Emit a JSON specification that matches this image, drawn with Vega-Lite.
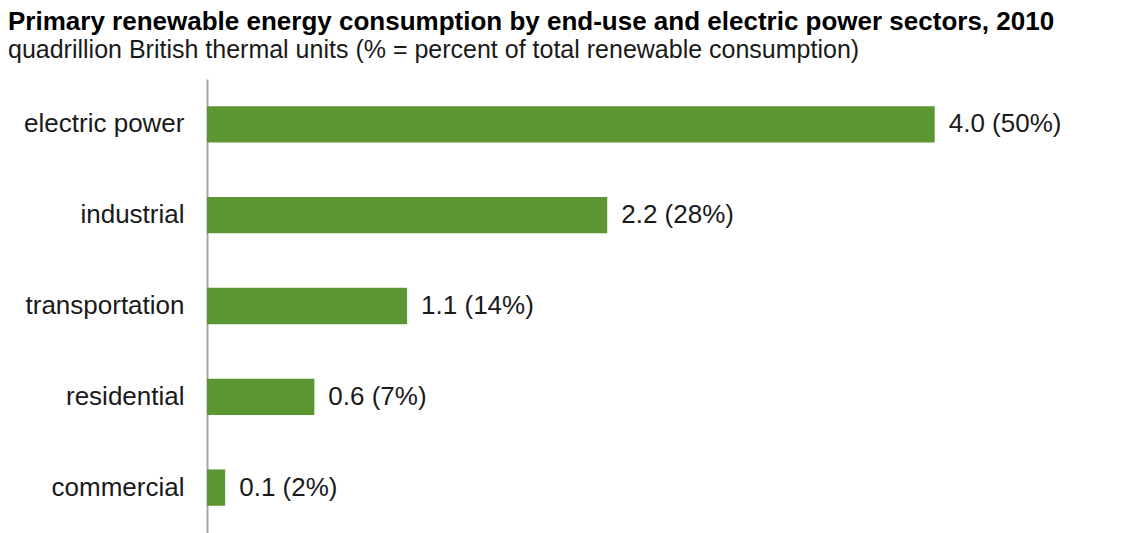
{
  "$schema": "https://vega.github.io/schema/vega-lite/v6.json",
  "autosize": "none",
  "width": 926,
  "height": 454,
  "padding": {"left": 207, "top": 79, "right": 0, "bottom": 0},
  "background": "white",
  "view": {"stroke": null},
  "title": {
    "text": "Primary renewable energy consumption by end-use and electric power sectors, 2010",
    "subtitle": "quadrillion British thermal units (% = percent of total renewable consumption)",
    "anchor": "start",
    "frame": "group",
    "dx": -199,
    "offset": 16,
    "font": "Liberation Sans",
    "fontSize": 26,
    "fontWeight": "bold",
    "color": "#000000",
    "subtitleFont": "Liberation Sans",
    "subtitleFontSize": 25,
    "subtitleColor": "#1a1a1a",
    "subtitlePadding": 3
  },
  "data": {
    "values": [
      {"sector": "electric power", "value": 4.0, "label": "4.0 (50%)"},
      {"sector": "industrial", "value": 2.2, "label": "2.2 (28%)"},
      {"sector": "transportation", "value": 1.1, "label": "1.1 (14%)"},
      {"sector": "residential", "value": 0.59, "label": "0.6 (7%)"},
      {"sector": "commercial", "value": 0.1, "label": "0.1 (2%)"}
    ]
  },
  "encoding": {
    "y": {
      "field": "sector",
      "type": "nominal",
      "sort": null,
      "scale": {"paddingInner": 0.6, "paddingOuter": 0.3},
      "axis": {
        "title": null,
        "ticks": false,
        "labelPadding": 23,
        "labelFont": "Liberation Sans",
        "labelFontSize": 26,
        "labelColor": "#1a1a1a",
        "domainColor": "#a6a6a6",
        "domainWidth": 2
      }
    },
    "x": {
      "field": "value",
      "type": "quantitative",
      "scale": {"domain": [0, 5.09], "nice": false},
      "axis": null
    }
  },
  "layer": [
    {"mark": {"type": "bar", "color": "#5b9632"}},
    {
      "mark": {"type": "text", "align": "left", "dx": 14, "font": "Liberation Sans", "fontSize": 26, "color": "#1a1a1a"},
      "encoding": {"text": {"field": "label"}}
    }
  ]
}
